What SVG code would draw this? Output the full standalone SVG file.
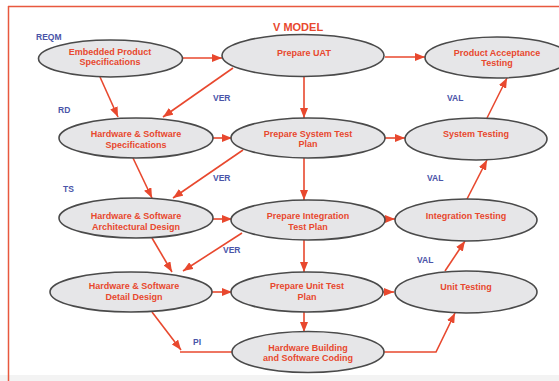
<svg xmlns="http://www.w3.org/2000/svg" width="559" height="381" viewBox="0 0 559 381">
<style>
.n ellipse{fill:#e6e6e8;stroke:#4a4a4a;stroke-width:1.6}
.n text{font-family:"Liberation Sans",Arial,sans-serif;font-weight:bold;font-size:9px;fill:#e8482e;text-anchor:middle}
.lbl{font-family:"Liberation Sans",Arial,sans-serif;font-weight:bold;font-size:8.5px;fill:#4a55a8}
.e line,.e path,.e polyline{stroke:#e8482e;stroke-width:1.6;fill:none}
</style>
<defs>
<marker id="ah" viewBox="0 0 10 8" refX="10" refY="4" markerWidth="10" markerHeight="8" markerUnits="userSpaceOnUse" orient="auto">
<path d="M0,0 L10,4 L0,8 z" fill="#e8482e"/>
</marker>
</defs>
<rect x="0" y="0" width="559" height="381" fill="#ffffff"/>
<rect x="0" y="375" width="559" height="6" fill="#f3f3f3"/>
<line x1="8" y1="6.5" x2="559" y2="6.5" stroke="#e8583e" stroke-width="1.5"/>
<line x1="8.5" y1="6" x2="8.5" y2="381" stroke="#e8583e" stroke-width="1.5"/>
<text x="273" y="31" font-family="'Liberation Sans',Arial,sans-serif" font-weight="bold" font-size="11" fill="#e8482e">V MODEL</text>

<g class="e">
<line x1="183" y1="58" x2="222" y2="58" marker-end="url(#ah)"/>
<line x1="385" y1="57" x2="425" y2="57" marker-end="url(#ah)"/>
<line x1="100" y1="77" x2="118" y2="117" marker-end="url(#ah)"/>
<line x1="233" y1="68" x2="163" y2="117" marker-end="url(#ah)"/>
<line x1="304" y1="77" x2="304" y2="118" marker-end="url(#ah)"/>
<line x1="487" y1="118" x2="507" y2="78" marker-end="url(#ah)"/>
<line x1="213" y1="138" x2="232" y2="138" marker-end="url(#ah)"/>
<line x1="385" y1="138" x2="405" y2="138" marker-end="url(#ah)"/>
<line x1="133" y1="158" x2="152" y2="198" marker-end="url(#ah)"/>
<line x1="243" y1="150" x2="173" y2="198" marker-end="url(#ah)"/>
<line x1="304" y1="158" x2="304" y2="200" marker-end="url(#ah)"/>
<line x1="467" y1="199" x2="487" y2="160" marker-end="url(#ah)"/>
<line x1="213" y1="219" x2="232" y2="219" marker-end="url(#ah)"/>
<line x1="385" y1="219" x2="395" y2="219" marker-end="url(#ah)"/>
<line x1="152" y1="238" x2="172" y2="272" marker-end="url(#ah)"/>
<line x1="242" y1="233" x2="183" y2="271" marker-end="url(#ah)"/>
<line x1="304" y1="240" x2="304" y2="272" marker-end="url(#ah)"/>
<line x1="445" y1="271" x2="465" y2="241" marker-end="url(#ah)"/>
<line x1="212" y1="292" x2="232" y2="292" marker-end="url(#ah)"/>
<line x1="383" y1="292" x2="394" y2="292" marker-end="url(#ah)"/>
<line x1="304" y1="312" x2="304" y2="332" marker-end="url(#ah)"/>
<line x1="152" y1="312" x2="181" y2="350" marker-end="url(#ah)"/>
<line x1="180" y1="352" x2="232" y2="352"/>
<polyline points="384,352 436,352 455,313" marker-end="url(#ah)"/>
</g>

<g id="embedded" class="n"><ellipse cx="110.5" cy="58.5" rx="72" ry="18.5"/><text x="110" y="55">Embedded Product</text><text x="110" y="65">Specifications</text></g>
<g id="uat" class="n"><ellipse cx="303" cy="55.5" rx="81" ry="21"/><text x="304" y="55.5">Prepare UAT</text></g>
<g id="pat" class="n"><ellipse cx="497" cy="57.5" rx="72" ry="20.5"/><text x="497" y="55.5">Product Acceptance</text><text x="497" y="65.5">Testing</text></g>
<g id="hwspec" class="n"><ellipse cx="136" cy="138" rx="77" ry="20"/><text x="136" y="136.5">Hardware &amp; Software</text><text x="136" y="147.5">Specifications</text></g>
<g id="sysplan" class="n"><ellipse cx="308" cy="138" rx="77" ry="20"/><text x="308" y="136.5">Prepare System Test</text><text x="308" y="146.5">Plan</text></g>
<g id="systest" class="n"><ellipse cx="476" cy="139" rx="71" ry="21"/><text x="476" y="136.5">System Testing</text></g>
<g id="arch" class="n"><ellipse cx="136" cy="218" rx="77" ry="20"/><text x="136" y="218.5">Hardware &amp; Software</text><text x="136" y="229.5">Architectural Design</text></g>
<g id="intplan" class="n"><ellipse cx="308" cy="220" rx="77" ry="20"/><text x="308" y="218.5">Prepare Integration</text><text x="308" y="229.5">Test Plan</text></g>
<g id="inttest" class="n"><ellipse cx="466" cy="220" rx="71" ry="21"/><text x="466" y="218.5">Integration Testing</text></g>
<g id="detail" class="n"><ellipse cx="131" cy="292" rx="81" ry="20"/><text x="134" y="288.5">Hardware &amp; Software</text><text x="134" y="299.5">Detail Design</text></g>
<g id="unitplan" class="n"><ellipse cx="307" cy="292" rx="76" ry="20"/><text x="307" y="288.5">Prepare Unit Test</text><text x="307" y="299.5">Plan</text></g>
<g id="unittest" class="n"><ellipse cx="466" cy="292" rx="71" ry="21"/><text x="466" y="289.5">Unit Testing</text></g>
<g id="hwbuild" class="n"><ellipse cx="308" cy="352" rx="76" ry="20.5"/><text x="308" y="350.5">Hardware Building</text><text x="308" y="360.5">and Software Coding</text></g>

<g id="labels">
<text class="lbl" x="36" y="40">REQM</text>
<text class="lbl" x="58" y="113">RD</text>
<text class="lbl" x="213" y="101">VER</text>
<text class="lbl" x="447" y="101">VAL</text>
<text class="lbl" x="63" y="192">TS</text>
<text class="lbl" x="213" y="181">VER</text>
<text class="lbl" x="427" y="181">VAL</text>
<text class="lbl" x="223" y="253">VER</text>
<text class="lbl" x="417" y="263">VAL</text>
<text class="lbl" x="193" y="345">PI</text>
</g>
</svg>
